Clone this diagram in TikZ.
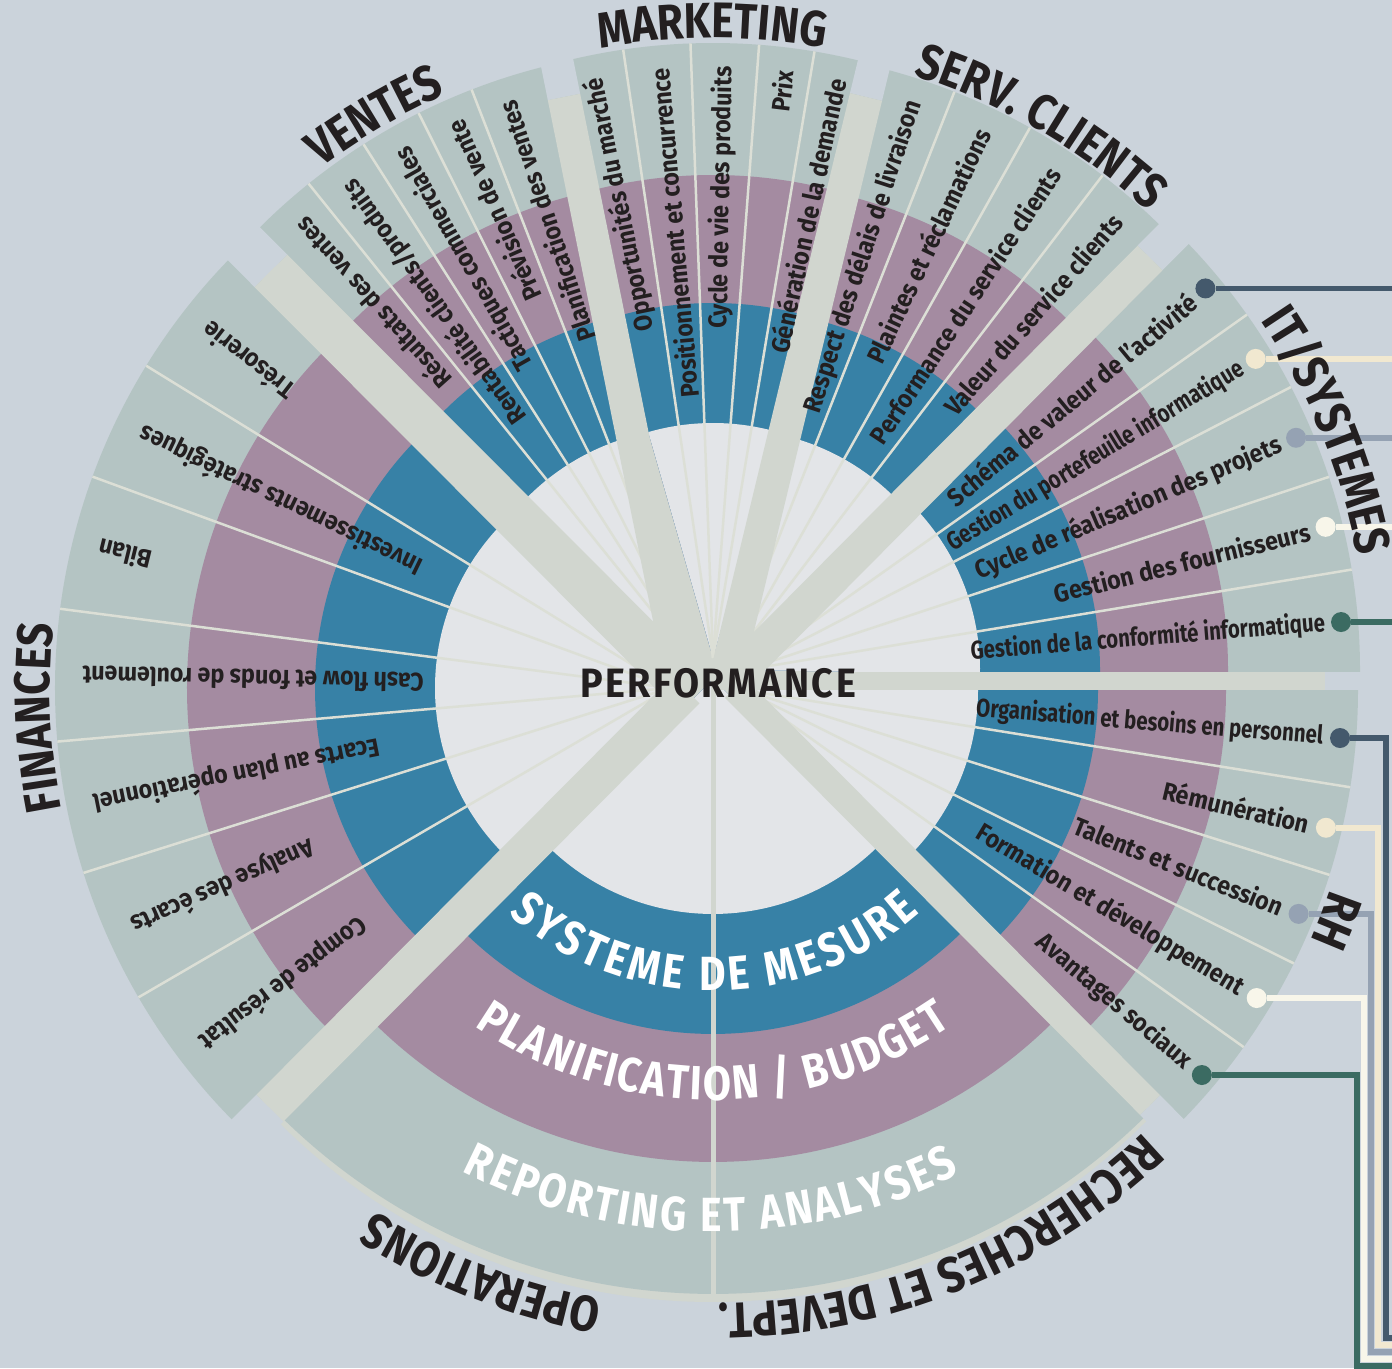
\documentclass[tikz,border=0pt]{standalone}
\usepackage{fontspec}
\setmainfont{Fira Sans}
\newfontfamily\itemfont[FakeStretch=0.91]{Fira Sans}
\newfontfamily\itemnarrow[FakeStretch=0.8]{Fira Sans}
\newfontfamily\headfont[FakeStretch=0.85]{Fira Sans}
\newfontfamily\perffont[FakeStretch=0.92,LetterSpace=6]{Fira Sans}
\usetikzlibrary{calc,decorations.text}

\definecolor{bgcol}{HTML}{CBD3DB}
\definecolor{outercol}{HTML}{B4C4C3}
\definecolor{mauvecol}{HTML}{A48BA1}
\definecolor{tealcol}{HTML}{3781A6}
\definecolor{innercol}{HTML}{E3E5E8}
\definecolor{barcol}{HTML}{D1D6CF}
\definecolor{spokecol}{HTML}{DCDFD6}
\definecolor{inkcol}{HTML}{231F20}
\definecolor{slatecol}{HTML}{44596C}
\definecolor{creamcol}{HTML}{F1E8D0}
\definecolor{greybluecol}{HTML}{95A2B3}
\definecolor{palecol}{HTML}{F8F6EA}
\definecolor{pinecol}{HTML}{3B6B62}

\tikzset{
  itemtxt/.style={font=\itemfont\bfseries\fontsize{25.5}{25.5}\selectfont, text=inkcol, inner sep=0pt, anchor=east},
  itemlong/.style={itemtxt, font=\itemnarrow\bfseries\fontsize{25.5}{25.5}\selectfont},
  spoke/.style={draw=spokecol, line width=2.5pt},
  dot/.style={circle, minimum size=20pt, inner sep=0pt},
  link/.style={line width=5.5pt},
}

\newcommand\headlab{\headfont\bfseries\fontsize{50}{50}\selectfont\color{inkcol}}
\newcommand\ringlab{\headfont\bfseries\fontsize{48}{48}\selectfont\color{white}}

\newcommand\ringsector[3]{%
  \foreach \rr/\cc in {615/outercol,483/mauvecol,355/tealcol,235/innercol}
    \fill[\cc] (#1) -- ++(#2:\rr) arc[start angle=#2, end angle=#3, radius=\rr] -- cycle;
}
\newcommand\arclabel[5]{%
  \path[decorate, decoration={text along path, text align=center, text={#5}}]
    ($(#1)+(#3:#2)$) arc[start angle=#3, end angle=#4, radius=#2];
}
\newcommand\fitlabel[5]{%
  \path[decorate, decoration={text along path, text align={fit to path}, text={#5}}]
    ($(#1)+(#3:#2)$) arc[start angle=#3, end angle=#4, radius=#2];
}

\begin{document}
\begin{tikzpicture}[x=1pt,y=1pt]
\useasboundingbox (0,0) rectangle (1392,1368);
\fill[bgcol] (0,0) rectangle (1392,1368);

\coordinate (D) at (712,678);
\coordinate (V) at (694,705);
\coordinate (M) at (713,710);
\coordinate (S) at (729,704);
\coordinate (T) at (745,698);
\coordinate (H) at (743,678);
\coordinate (F) at (670,680);
\coordinate (B) at (713,689);
\coordinate (xr) at (1400,0);

\fill[barcol] (D) circle[radius=612];

\ringsector{F}{135}{225.3}
\ringsector{V}{104.2}{136}
\ringsector{M}{74.4}{106}
\ringsector{S}{44.5}{76.1}
\ringsector{T}{-1}{45}
\ringsector{H}{-45.5}{1}
\ringsector{B}{225.5}{315.2}

\foreach \a in {128.8,122.5,116.6,111.2} \draw[spoke] (V) -- ++(\a:615);
\foreach \a in {98.4,92.1,85.7,80.5} \draw[spoke] (M) -- ++(\a:615);
\foreach \a in {68.5,60.7,52.6} \draw[spoke] (S) -- ++(\a:615);
\foreach \a in {35.3,27.4,18.3,9.4} \draw[spoke] (T) -- ++(\a:615);
\foreach \a in {-9.1,-17.5,-26.4,-35.5} \draw[spoke] (H) -- ++(\a:615);
\foreach \a in {148.4,159.9,172.6,185.0,197.5,210.2} \draw[spoke] (F) -- ++(\a:615);

\coordinate (b1s) at (680,687); \coordinate (b1e) at (271,1097);
\coordinate (b2s) at (682,687); \coordinate (b2e) at (564,1271);
\coordinate (b3s) at (725,687); \coordinate (b3e) at (866,1271);
\coordinate (b4s) at (730,687); \coordinate (b4e) at (1150,1110);
\coordinate (b5s) at (712,687); \coordinate (b5e) at (1325,687);
\coordinate (b6s) at (735,680); \coordinate (b6e) at (1150,263);
\coordinate (b7s) at (686,678); \coordinate (b7e) at (270,260);
\foreach \s/\e/\w in {b1s/b1e/46, b2s/b2e/33, b3s/b3e/33, b4s/b4e/35, b5s/b5e/18, b6s/b6e/28, b7s/b7e/38} {
  \draw[bgcol, line width=\w pt] (\e) -- ($(\s)!1.3!(\e)$);
  \draw[barcol, line width=\w pt] (\s) -- (\e);
}
\draw[barcol, line width=5pt] (B) -- ++(0,-622);

\foreach \a/\t [count=\i] in {131.85/{Résultats des ventes}, 125.65/{Rentabilité clients/produits}, 119.55/{Tactiques commerciales}, 113.9/{Prévision de vente}, 108.45/{Planification des ventes}}
  \node[itemtxt, rotate=\a] (ven\i) at ($(V)+(\a:592)$) {\t};
\foreach \a/\t [count=\i] in {101.55/{Opportunités du marché}, 95.25/{Positionnement et concurrence}, 88.9/{Cycle de vie des produits}, 83.1/{Prix}, 77.95/{Génération de la demande}}
  \node[itemtxt, rotate=\a] (mkt\i) at ($(M)+(\a:592)$) {\t};
\foreach \a/\t [count=\i] in {71.8/{Respect des délais de livraison}, 64.6/{Plaintes et réclamations}, 56.65/{Performance du service clients}, 49.05/{Valeur du service clients}}
  \node[itemtxt, rotate=\a] (srv\i) at ($(S)+(\a:592)$) {\t};
\foreach \a/\t [count=\i] in {142.25/{Trésorerie}, 154.15/{Investissements stratégiques}, 166.25/{Bilan}, 178.8/{Cash flow et fonds de roulement}, 191.25/{Ecarts au plan opérationnel}, 203.85/{Analyse des écarts}, 217.25/{Compte de résultat}}
  \node[itemtxt, rotate=\a] (fin\i) at ($(F)+(\a:588)$) {\t};

\foreach \a/\t/\col/\sty [count=\i] in {39.65/{Schéma de valeur de l’activité}/slatecol/itemtxt, 31.35/{Gestion du portefeuille informatique}/creamcol/itemlong, 22.85/{Cycle de réalisation des projets}/greybluecol/itemtxt, 13.85/{Gestion des fournisseurs}/palecol/itemtxt, 4.6/{Gestion de la conformité informatique}/pinecol/itemlong} {
  \node[\sty, rotate=\a] (its\i) at ($(T)+(\a:582)$) {\t};
  \node[dot, fill=\col] (itd\i) at ($(T)+(\a:598)$) {};
  \draw[link, \col] (itd\i) -- (itd\i -| xr);
}

\coordinate (rt1) at (1386,30);
\coordinate (rt2) at (1378,23);
\coordinate (rt3) at (1371,16);
\coordinate (rt4) at (1364,9);
\coordinate (rt5) at (1357,2);
\foreach \a/\t/\col/\sty [count=\i] in {-4.6/{Organisation et besoins en personnel}/slatecol/itemlong, -13.3/{Rémunération}/creamcol/itemtxt, -21.95/{Talents et succession}/greybluecol/itemtxt, -30.95/{Formation et développement}/palecol/itemtxt, -40/{Avantages sociaux}/pinecol/itemtxt} {
  \node[\sty, rotate=\a] (rhs\i) at ($(H)+(\a:582)$) {\t};
  \node[dot, fill=\col] (rhd\i) at ($(H)+(\a:599)$) {};
  \draw[link, \col] (rhd\i) -| (rt\i) -- (rt\i -| xr);
}

\arclabel{V}{620}{160}{80.5}{|\headlab|VENTES}
\arclabel{M}{620}{130}{50.1}{|\headlab|MARKETING}
\arclabel{S}{617}{99.85}{19.85}{|\headlab|SERV. CLIENTS}
\arclabel{T}{623}{62.35}{-17.65}{|\headlab|IT/SYSTEMES}
\arclabel{H}{620}{18.7}{-61.3}{|\headlab|RH}
\arclabel{F}{620}{222.7}{142.7}{|\headlab|FINANCES}
\arclabel{B}{630}{288.75}{208.75}{|\headlab|OPERATIONS}
\arclabel{B}{625}{340}{244}{|\headlab|RECHERCHES ET DEVEPT.}

\fitlabel{B}{312}{229}{311.5}{|\ringlab|SYSTEME DE MESURE}
\fitlabel{B}{421}{235.5}{304.5}{|\ringlab|PLANIFICATION / BUDGET}
\fitlabel{B}{553}{243}{296.5}{|\ringlab|REPORTING ET ANALYSES}

\node[font=\perffont\bfseries\fontsize{41}{41}\selectfont, text=inkcol] (perf) at (718,685) {PERFORMANCE};
\end{tikzpicture}
\end{document}
